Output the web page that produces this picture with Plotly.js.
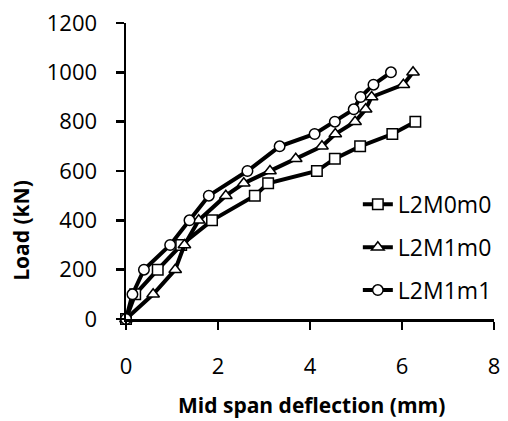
<!DOCTYPE html>
<html><head><meta charset="utf-8">
<script src="https://cdn.plot.ly/plotly-3.0.1.min.js"></script>
<style>html,body{margin:0;padding:0;background:#fff}#c{width:508px;height:421px}</style>
</head><body><div id="c"></div>
<script>
const seriesNames = ["L2M0m0", "L2M1m0", "L2M1m1"];
const x_L2M0m0 = [0, 0.2, 0.69, 1.2, 1.87, 2.8, 3.09, 4.15, 4.54, 5.09, 5.79, 6.29];
const y_L2M0m0 = [0, 100, 200, 300, 400, 500, 550, 600, 650, 700, 750, 800];
const x_L2M1m0 = [0, 0.59, 1.07, 1.27, 1.58, 2.17, 2.56, 3.13, 3.69, 4.26, 4.55, 4.98, 5.21, 5.34, 6.03, 6.24];
const y_L2M1m0 = [0, 100, 200, 300, 400, 500, 550, 600, 650, 700, 750, 800, 850, 900, 950, 1000];
const x_L2M1m1 = [0, 0.14, 0.39, 0.96, 1.38, 1.8, 2.64, 3.34, 4.1, 4.54, 4.95, 5.1, 5.38, 5.76];
const y_L2M1m1 = [0, 100, 200, 300, 400, 500, 600, 700, 750, 800, 850, 900, 950, 1000];
const xTicks = [0, 2, 4, 6, 8];
const yTicks = [0, 200, 400, 600, 800, 1000, 1200];
const xTitle = "Mid span deflection (mm)";
const yTitle = "Load (kN)";

const FONT = "'Open Sans', Lato, sans-serif";
const symbols = ["square", "triangle-up", "circle"];
const xs = [x_L2M0m0, x_L2M1m0, x_L2M1m1];
const ys = [y_L2M0m0, y_L2M1m0, y_L2M1m1];
const traces = seriesNames.map((n, i) => ({
  x: xs[i], y: ys[i], name: n, type: "scatter", mode: "lines+markers",
  legendgroup: "g" + i, cliponaxis: false,
  line: {color: "#000", width: 4},
  marker: {symbol: symbols[i], size: i === 1 ? 11 : 10.5, color: "#fff", line: {color: "#000", width: 1.5}}
}));

const layout = {
  width: 508, height: 421,
  margin: {l: 126, r: 11, t: 23, b: 102, pad: 0},
  paper_bgcolor: "#fff", plot_bgcolor: "#fff",
  font: {family: FONT, size: 22, color: "#000"},
  showlegend: true,
  legend: {x: 0.63, y: 0.46, xanchor: "left", yanchor: "top", bgcolor: "rgba(0,0,0,0)",
           font: {family: FONT, size: 23, color: "#000"}, traceorder: "grouped", tracegroupgap: 10},
  xaxis: {range: [0, 8], tickvals: xTicks, ticktext: xTicks.map(String), showgrid: false, zeroline: false,
          showline: true, linecolor: "#000", linewidth: 2.5, ticks: "outside", ticklen: 8, tickwidth: 2.5, tickcolor: "#000",
          tickfont: {family: FONT, size: 22}, ticklabelstandoff: 18, fixedrange: true},
  yaxis: {range: [0, 1200], tickvals: yTicks, ticktext: yTicks.map(String), showgrid: false, zeroline: false,
          showline: true, linecolor: "#000", linewidth: 2.5, ticks: "outside", ticklen: 8, tickwidth: 2.5, tickcolor: "#000",
          tickfont: {family: FONT, size: 22}, ticklabelstandoff: 14, fixedrange: true},
  annotations: [
    {text: "<b>" + xTitle + "</b>", xref: "paper", yref: "paper", x: 0.5045, y: -0.29, xanchor: "center", yanchor: "middle",
     showarrow: false, font: {family: FONT, size: 21, color: "#000"}},
    {text: "<b>" + yTitle + "</b>", xref: "paper", yref: "paper", x: -0.2836, y: 0.30, xanchor: "center", yanchor: "middle",
     textangle: -90, showarrow: false, font: {family: FONT, size: 21, color: "#000"}}
  ]
};
Plotly.newPlot("c", traces, layout, {displayModeBar: false, staticPlot: true});
</script></body></html>
